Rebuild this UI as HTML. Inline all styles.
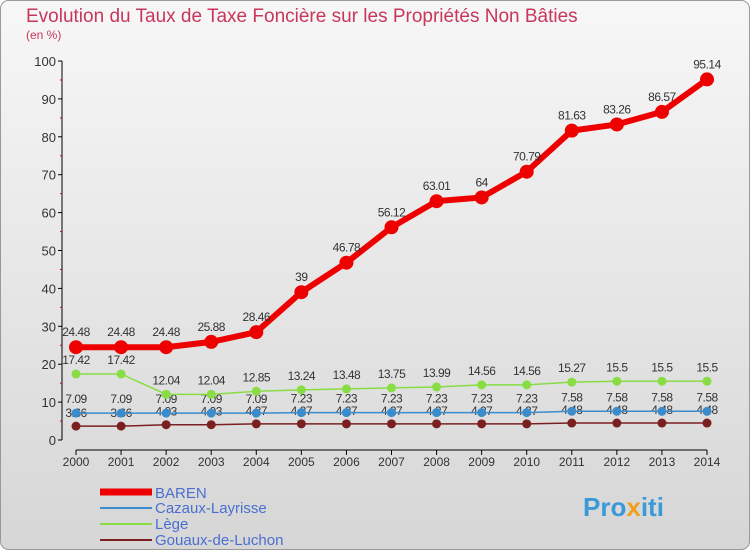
<!DOCTYPE html>
<html><head><meta charset="utf-8"><style>
body{margin:0;width:750px;height:550px;overflow:hidden}
svg{display:block;font-family:"Liberation Sans",sans-serif}
</style></head><body>
<svg id="c" width="750" height="550">
<defs><linearGradient id="bg" x1="0" y1="0" x2="0" y2="1"><stop offset="0" stop-color="#f7f7f7"/><stop offset="1" stop-color="#d6d6d6"/></linearGradient></defs>
<rect x="0.5" y="0.5" width="749" height="549" rx="8" fill="url(#bg)" stroke="#999"/>
<text x="26" y="22" font-size="19" fill="#c8375a">Evolution du Taux de Taxe Foncière sur les Propriétés Non Bâties</text>
<text x="26" y="39" font-size="12" fill="#c8375a">(en %)</text>
<g id="g"></g>
<g>
<line x1="100" y1="492" x2="152" y2="492" stroke="#e00" stroke-width="7"/>
<text x="155" y="498" font-size="15" fill="#4a6fd0">BAREN</text>
<line x1="100" y1="508" x2="152" y2="508" stroke="#3a8ccc" stroke-width="2"/>
<text x="155" y="513" font-size="15" fill="#4a6fd0">Cazaux-Layrisse</text>
<line x1="100" y1="524" x2="152" y2="524" stroke="#88dd44" stroke-width="2"/>
<text x="155" y="529" font-size="15" fill="#4a6fd0">Lège</text>
<line x1="100" y1="540" x2="152" y2="540" stroke="#7a2020" stroke-width="2"/>
<text x="155" y="545" font-size="15" fill="#4a6fd0">Gouaux-de-Luchon</text>
</g>
<text x="583" y="516" font-size="26" font-weight="bold" fill="#3a9ad8">Pro<tspan fill="#f0a020">x</tspan>iti</text>
</svg>
<script>
const years=[2000,2001,2002,2003,2004,2005,2006,2007,2008,2009,2010,2011,2012,2013,2014];
const baren=[24.48,24.48,24.48,25.88,28.46,39,46.78,56.12,63.01,64,70.79,81.63,83.26,86.57,95.14];
const cazaux=[7.09,7.09,7.09,7.09,7.09,7.23,7.23,7.23,7.23,7.23,7.23,7.58,7.58,7.58,7.58];
const lege=[17.42,17.42,12.04,12.04,12.85,13.24,13.48,13.75,13.99,14.56,14.56,15.27,15.5,15.5,15.5];
const gouaux=[3.66,3.66,4.03,4.03,4.27,4.27,4.27,4.27,4.27,4.27,4.27,4.48,4.48,4.48,4.48];
const yTicks=[0,10,20,30,40,50,60,70,80,90,100];
const X=i=>76+i*(707-76)/(years.length-1);
const Y=v=>440-v*3.79;
const g=document.getElementById('g');
const NS='http://www.w3.org/2000/svg';
function mk(t,a,p){const e=document.createElementNS(NS,t);for(const k in a)e.setAttribute(k,a[k]);(p||g).appendChild(e);return e;}
let ax=mk('line',{x1:62,y1:Y(100),x2:62,y2:Y(0),stroke:'#000'});


yTicks.forEach(v=>{
 mk('line',{x1:58,y1:Y(v),x2:62,y2:Y(v),stroke:'#000'});
 if(v<100)mk('line',{x1:60,y1:Y(v+5),x2:62,y2:Y(v+5),stroke:'#d00'});
 const t=mk('text',{x:56,y:Y(v)+5,'font-size':13,fill:'#333','text-anchor':'end'});t.textContent=v;
 
 
});
let xa=mk('line',{x1:X(0),y1:450,x2:X(years.length-1),y2:450,stroke:'#000'});


years.forEach((y,i)=>{
 mk('line',{x1:X(i),y1:450,x2:X(i),y2:455,stroke:'#000'});
 const t=mk('text',{x:X(i),y:466,'font-size':12,fill:'#333','text-anchor':'middle'});t.textContent=y;
 
 
});
function series(vals,color,w,r,name,dy){
 const s=mk('g',{});
 
 
 mk('polyline',{points:vals.map((v,i)=>X(i)+','+Y(v)).join(' '),fill:'none',stroke:color,'stroke-width':w},s);
 vals.forEach((v,i)=>{
  const c=mk('circle',{cx:X(i),cy:Y(v),r:r,fill:color},s);
  
  
  const t=mk('text',{x:X(i),y:Y(v)+dy,'font-size':12,fill:'#333','text-anchor':'middle','letter-spacing':'-0.5'},s);t.textContent=v;
  
  
 });
}
series(gouaux,'#7a2020',1.5,4.5,'gouaux',-9);
series(cazaux,'#3a8ccc',1.5,4.5,'cazaux',-10);
series(lege,'#88dd44',1.5,4.5,'lege',-10);
series(baren,'#e00',6,7,'baren',-11);
</script>
</body></html>
